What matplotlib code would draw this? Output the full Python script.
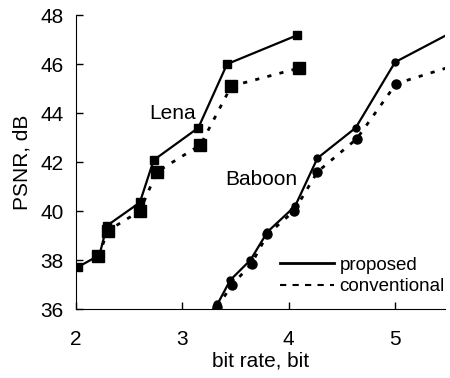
import matplotlib
matplotlib.use("Agg")
import matplotlib.pyplot as plt
from matplotlib.lines import Line2D

plt.rcParams['font.family'] = ['Liberation Sans', 'DejaVu Sans']

# Lena
lena_prop_x = [2.02, 2.22, 2.29, 2.60, 2.73, 3.15, 3.42, 4.08]
lena_prop_y = [37.72, 38.2, 39.4, 40.35, 42.08, 43.4, 46.0, 47.18]
lena_conv_x = [2.21, 2.30, 2.60, 2.76, 3.17, 3.46, 4.10]
lena_conv_y = [38.15, 39.2, 40.0, 41.6, 42.7, 45.1, 45.84]

# Baboon
baboon_prop_x = [3.25, 3.33, 3.45, 3.64, 3.80, 4.06, 4.27, 4.63, 5.00, 5.60]
baboon_prop_y = [35.8, 36.2, 37.18, 38.0, 39.15, 40.2, 42.16, 43.4, 46.08, 47.45]
baboon_conv_x = [3.25, 3.33, 3.47, 3.65, 3.80, 4.05, 4.27, 4.64, 5.01, 5.60]
baboon_conv_y = [35.7, 36.1, 37.0, 37.85, 39.05, 40.0, 41.6, 42.95, 45.2, 46.0]

fig = plt.figure(figsize=(4.5, 3.78), dpi=100)
ax = fig.add_axes([0.169, 0.1825, 0.82, 0.7775])

dots = (0, (1.5, 3))
ax.plot(lena_prop_x, lena_prop_y, 'k-', lw=1.6, marker='s', ms=5.5)
ax.plot(lena_conv_x, lena_conv_y, 'k', ls=dots, lw=2, marker='s', ms=8.5)
ax.plot(baboon_prop_x, baboon_prop_y, 'k-', lw=1.6, marker='o', ms=5)
ax.plot(baboon_conv_x, baboon_conv_y, 'k', ls=dots, lw=2, marker='o', ms=6.5)

ax.text(2.91, 44.0, 'Lena', fontsize=15, ha='center', va='center')
ax.text(3.74, 41.27, 'Baboon', fontsize=15, ha='center', va='center')

ax.set_xlim(2, 5.47)
ax.set_ylim(36, 48)
ax.set_xticks([2, 3, 4, 5])
ax.set_yticks([36, 38, 40, 42, 44, 46, 48])
ax.tick_params(direction='in', length=5, labelsize=15, width=1)
ax.tick_params(axis='x', pad=15)
ax.tick_params(axis='y', pad=9)
ax.spines['top'].set_visible(False)
ax.spines['right'].set_visible(False)
ax.set_xlabel('bit rate, bit', fontsize=15, labelpad=2)
ax.set_ylabel('PSNR, dB', fontsize=15, labelpad=6)

handles = [Line2D([], [], color='k', lw=2),
           Line2D([], [], color='k', lw=1.5, ls=(0, (3, 3)))]
ax.legend(handles, ['proposed', 'conventional'], loc='lower right',
          bbox_to_anchor=(1.045, -0.01), frameon=False, fontsize=13.5,
          handlelength=2.9, handletextpad=0.3, labelspacing=0.22)

fig.savefig('out.png', dpi=100)
